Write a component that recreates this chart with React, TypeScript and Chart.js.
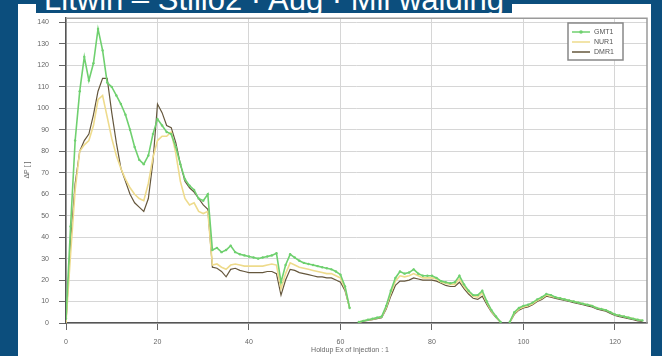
import React, { useEffect, useRef } from "react";
import { Chart, registerables } from "chart.js";

Chart.register(...registerables);

const BLUE = "#0c4e7d";

const seriesNames = ["GMT1", "NUR1", "DMR1"];

// Green series (with point markers), x = 0 .. 126
const green: (number | null)[] = [
  2, 45, 85, 108, 124, 113, 121, 137, 127, 112,
  110, 106, 102, 97, 90, 82, 76, 74, 78, 88,
  95, 92, 89, 88, 82, 74, 67, 64, 62, 58,
  57, 60, 34, 35, 33, 34, 36, 33, 32, 31.5,
  31, 30.5, 30, 30.5, 31, 31.5, 32.5, 19, 27, 32,
  30.5, 29, 28, 27.5, 27, 26.5, 26, 25.5, 25, 24,
  22.5, 17, 7, null, 0.5, 1, 1.5, 2, 2.5, 3,
  8, 15, 21, 24, 23, 23.5, 25, 23, 22, 22,
  22, 21, 19.5, 19, 18.5, 19, 22, 18, 15, 13,
  13, 15, 10, 6, 3, 0.5, null, 0.5, 5, 7,
  8, 8.5, 9.5, 11, 12, 13.5, 13, 12, 11.5, 11,
  10.5, 10, 9.5, 9, 8.5, 8, 7, 6.5, 6, 5,
  4, 3.5, 3, 2.5, 2, 1.5, 1.2,
];

// Light yellow series
const yellow: (number | null)[] = [
  0, 32, 62, 80, 83, 85, 92, 104, 106, 96,
  86, 78, 72, 67, 63, 60, 58, 57, 65, 77,
  85, 87, 87, 89, 79, 66, 58, 55, 56, 52,
  51, 52, 27, 27.5, 26, 25, 27, 27.5, 27, 26.5,
  26.5, 26.5, 26.5, 26.5, 27, 27.5, 27, 16, 23, 28,
  27, 26, 25.5, 25, 24.5, 24, 23.5, 23, 23, 22,
  21, 16, 7, null, 0.4, 0.9, 1.4, 1.8, 2.3, 2.8,
  7.2, 14, 19.5, 22, 21.5, 22, 23, 22, 21, 21,
  21, 20.5, 19, 18.5, 18, 18, 20.5, 17, 14.5, 12.5,
  12, 14, 9.5, 5.5, 2.8, 0.4, null, 0.4, 4.5, 6.5,
  7.5, 8, 9, 10.5, 11.5, 13, 12.5, 12, 11.5, 11,
  10.5, 10, 9.5, 9, 8.5, 8, 7, 6.5, 6, 5,
  4, 3.5, 3, 2.5, 2, 1.5, 1.2,
];

// Dark olive series
const olive: (number | null)[] = [
  0, 38, 65, 80, 85, 88, 97, 108, 114, 114,
  98, 84, 72, 66, 60, 56, 54, 52, 58, 75,
  102, 98, 92, 91, 84, 74, 66, 63, 61, 58,
  55, 53, 26, 25.5, 24, 21.5, 25, 25.5, 24.5, 24,
  23.5, 23.5, 23.5, 23.5, 24, 24, 23, 13, 20, 25,
  24.5, 23.5, 23, 22.5, 22, 21.5, 21.5, 21, 21, 20,
  19, 15, 7, null, 0.3, 0.8, 1.2, 1.6, 2, 2.5,
  6.5, 12.5, 17.5, 19.5, 19.5, 20, 21, 20.5, 20, 20,
  20, 19.5, 18.5, 17.5, 17, 17, 19, 16, 13.5, 11.5,
  11, 12.5, 8.5, 5, 2.5, 0.3, null, 0.3, 4, 6,
  7, 7.5, 8.5, 10, 11, 12.5, 12, 11.5, 11, 10.5,
  10, 9.5, 9, 8.5, 8, 7.5, 6.5, 6, 5.5, 4.5,
  3.5, 3, 2.5, 2, 1.5, 1, 0.8,
];

const xTickValues = [0, 20, 40, 60, 80, 100, 120];
const yTickValues = [0, 10, 20, 30, 40, 50, 60, 70, 80, 90, 100, 110, 120, 130, 140];
const xTitle = "Holdup Ex of Injection : 1";
const yTitle = "ΔP [ ]";
const pageTitle = "Litwin – Stillo2 · Aug · Mil walding";

const COLORS = ["#6fd06f", "#eedb8c", "#65573d"];

const toPoints = (ys: (number | null)[]) => ys.map((y, i) => ({ x: i, y }));

const FONT = '"Liberation Sans", Arial, sans-serif';

// Frame, axis titles and an inset legend box
const decorations = {
  id: "decorations",
  afterDraw(chart: any) {
    const { ctx, chartArea: a } = chart;
    ctx.save();
    // frame on top and right
    ctx.strokeStyle = "#9a9a9a";
    ctx.lineWidth = 1.5;
    ctx.beginPath();
    ctx.moveTo(a.left, a.top);
    ctx.lineTo(a.right, a.top);
    ctx.lineTo(a.right, a.bottom);
    ctx.stroke();

    // axis titles
    ctx.fillStyle = "#666";
    ctx.font = `7px ${FONT}`;
    ctx.textAlign = "center";
    ctx.textBaseline = "middle";
    ctx.fillText(xTitle, 332, 346);
    ctx.save();
    ctx.translate(9, 166);
    ctx.rotate(-Math.PI / 2);
    ctx.fillText(yTitle, 0, 0);
    ctx.restore();

    // legend box
    const bx = 550, by = 19, bw = 55, bh = 37;
    ctx.fillStyle = "#fff";
    ctx.fillRect(bx, by, bw, bh);
    ctx.strokeStyle = "#888";
    ctx.lineWidth = 1.5;
    ctx.strokeRect(bx, by, bw, bh);
    const rows = [28, 38, 48];
    seriesNames.forEach((name, i) => {
      const y = rows[i];
      ctx.strokeStyle = COLORS[i];
      ctx.lineWidth = 1.5;
      ctx.beginPath();
      ctx.moveTo(bx + 4, y);
      ctx.lineTo(bx + 22, y);
      ctx.stroke();
      if (i === 0) {
        ctx.fillStyle = COLORS[0];
        ctx.beginPath();
        ctx.arc(bx + 13, y, 1.8, 0, Math.PI * 2);
        ctx.fill();
      }
      ctx.fillStyle = "#555";
      ctx.font = `7px ${FONT}`;
      ctx.textAlign = "left";
      ctx.textBaseline = "middle";
      ctx.fillText(name, bx + 26, y);
    });
    ctx.restore();
  },
};

export default function App() {
  const ref = useRef<HTMLCanvasElement>(null);

  useEffect(() => {
    if (!ref.current) return;
    const chart = new Chart(ref.current, {
      type: "line",
      data: {
        datasets: [
          {
            label: seriesNames[0],
            data: toPoints(green),
            borderColor: COLORS[0],
            backgroundColor: COLORS[0],
            borderWidth: 1.6,
            pointRadius: 1.2,
            pointBorderWidth: 0,
            tension: 0,
            spanGaps: false,
          },
          {
            label: seriesNames[1],
            data: toPoints(yellow),
            borderColor: COLORS[1],
            backgroundColor: COLORS[1],
            borderWidth: 1.6,
            pointRadius: 0,
            tension: 0,
            spanGaps: false,
          },
          {
            label: seriesNames[2],
            data: toPoints(olive),
            borderColor: COLORS[2],
            backgroundColor: COLORS[2],
            borderWidth: 1.2,
            pointRadius: 0,
            tension: 0,
            spanGaps: false,
          },
        ],
      },
      options: {
        responsive: false,
        animation: false,
        events: [],
        layout: { padding: { top: 7, right: 4, left: 0, bottom: 0 } },
        plugins: {
          legend: { display: false },
          tooltip: { enabled: false },
        },
        scales: {
          x: {
            type: "linear",
            min: 0,
            max: 127,
            afterBuildTicks: (s: any) => {
              s.ticks = xTickValues.map((value) => ({ value }));
            },
            afterFit: (s: any) => {
              s.height = 33;
            },
            ticks: {
              color: "#666",
              font: { size: 7, family: FONT },
              padding: 8,
              maxRotation: 0,
            },
            grid: {
              color: "#d6d6d6",
              tickColor: "#666",
              tickLength: 7,
            },
            border: { display: true, color: "#555", width: 1.5 },
          },
          y: {
            type: "linear",
            min: 0,
            max: 142,
            afterBuildTicks: (s: any) => {
              s.ticks = yTickValues.map((value) => ({ value }));
            },
            afterFit: (s: any) => {
              s.width = 48;
            },
            ticks: {
              color: "#666",
              font: { size: 7, family: FONT },
              padding: 10,
            },
            grid: {
              color: "#d6d6d6",
              tickColor: "#666",
              tickLength: 7,
            },
            border: { display: true, color: "#555", width: 1.5 },
          },
        },
      },
      plugins: [decorations],
    } as any);
    return () => chart.destroy();
  }, []);

  return (
    <div style={{ position: "fixed", inset: 0, background: BLUE, overflow: "hidden" }}>
      <div
        style={{
          position: "absolute",
          left: 18,
          top: 4,
          width: 633,
          height: 352,
          background: "#fff",
        }}
      >
        <canvas
          ref={ref}
          width={633}
          height={352}
          style={{ display: "block", width: 633, height: 352 }}
        />
      </div>
      <div
        style={{
          position: "absolute",
          left: 36,
          top: -15,
          height: 28,
          overflow: "hidden",
          padding: "0 8px",
          background: BLUE,
          color: "#fff",
          font: `31px ${FONT}`,
          lineHeight: "30px",
          whiteSpace: "nowrap",
        }}
      >
        {pageTitle}
      </div>
    </div>
  );
}
